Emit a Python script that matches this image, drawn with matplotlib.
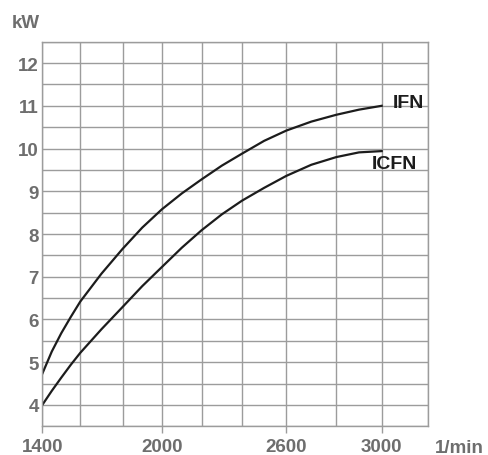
import numpy as np
import matplotlib
matplotlib.use("Agg")
import matplotlib.pyplot as plt

plt.rcParams["font.family"] = ["Liberation Sans", "DejaVu Sans"]
plt.rcParams["font.weight"] = "bold"

# speed (1/min) and power (kW)
rpm = [1400, 1450, 1500, 1550, 1600, 1700, 1800, 1900, 2000, 2100,
       2200, 2300, 2400, 2500, 2600, 2700, 2800, 2900, 3000]
ifn_kw = [4.73, 5.25, 5.68, 6.06, 6.42, 7.07, 7.65, 8.15, 8.58, 8.95,
          9.28, 9.60, 9.88, 10.18, 10.42, 10.63, 10.79, 10.91, 11.00]
icfn_kw = [4.00, 4.33, 4.64, 4.94, 5.22, 5.77, 6.29, 6.78, 7.23, 7.68,
           8.09, 8.46, 8.78, 9.08, 9.36, 9.62, 9.80, 9.91, 9.94]

x_ticks = [1400, 2000, 2600, 3000]
y_ticks = [4, 5, 6, 7, 8, 9, 10, 11, 12]
x_grid = [1400, 1600, 1800, 2000, 2200, 2400, 2600, 2800, 3000, 3200]

# the printed grid is not evenly spaced: map each grid value to its drawn place
grid_pos = np.array([42.3, 80.3, 122.5, 162.0, 201.7, 242.0, 286.3, 336.3, 381.7, 428.3])
grid_val = np.array(x_grid, dtype=float)


def _interp(v, xp, fp):
    v = np.asarray(v, dtype=float)
    out = np.interp(v, xp, fp)
    s0 = (fp[1] - fp[0]) / (xp[1] - xp[0])
    s1 = (fp[-1] - fp[-2]) / (xp[-1] - xp[-2])
    out = np.where(v < xp[0], fp[0] + (v - xp[0]) * s0, out)
    out = np.where(v > xp[-1], fp[-1] + (v - xp[-1]) * s1, out)
    return out


def fwd(v):
    return _interp(v, grid_val, grid_pos)


def inv(p):
    return _interp(p, grid_pos, grid_val)


GRID = "#9c9c9c"
LABEL = "#6e6e6e"
INK = "#1c1c1c"

fig = plt.figure(figsize=(4.89, 4.56), dpi=100)
ax = fig.add_axes([42.3 / 489, 1 - 427.3 / 456, 386.0 / 489, 384.6 / 456])
ax.set_xscale("function", functions=(fwd, inv))
ax.set_xlim(1400, 3200)
ax.set_ylim(3.5, 12.5)

ax.plot(rpm, ifn_kw, color=INK, lw=1.6)
ax.plot(rpm, icfn_kw, color=INK, lw=1.6)

ax.set_xticks(x_ticks)
ax.set_xticks(x_grid, minor=True)
ax.set_yticks(y_ticks)
ax.set_yticks(np.arange(3.5, 12.6, 0.5), minor=True)
ax.set_yticklabels([str(v) for v in y_ticks])
ax.set_xticklabels([str(v) for v in x_ticks])
ax.grid(True, which="both", color=GRID, lw=1.0)
ax.set_axisbelow(True)

ax.tick_params(axis="x", which="major", length=5, width=1.0, color=GRID,
               pad=3.5, labelsize=13.5, labelcolor=LABEL)
ax.tick_params(axis="y", which="major", length=0, pad=2.5,
               labelsize=13.5, labelcolor=LABEL)
ax.tick_params(which="minor", length=0)
for s in ax.spines.values():
    s.set_color(GRID)
    s.set_linewidth(1.0)

ax.text(3047, 11.08, "IFN", ha="left", va="center", fontsize=14,
        fontweight="bold", color=INK)
ax.text(2955, 9.64, "ICFN", ha="left", va="center", fontsize=14,
        fontweight="bold", color=INK)

fig.text(40 / 489, 1 - 28 / 456, "kW", ha="right", va="baseline",
         fontsize=13.5, fontweight="bold", color=LABEL)
fig.text(459 / 489, 1 - 453 / 456, "1/min", ha="center", va="baseline",
         fontsize=13.5, fontweight="bold", color=LABEL)

fig.savefig("out.png", dpi=100)
